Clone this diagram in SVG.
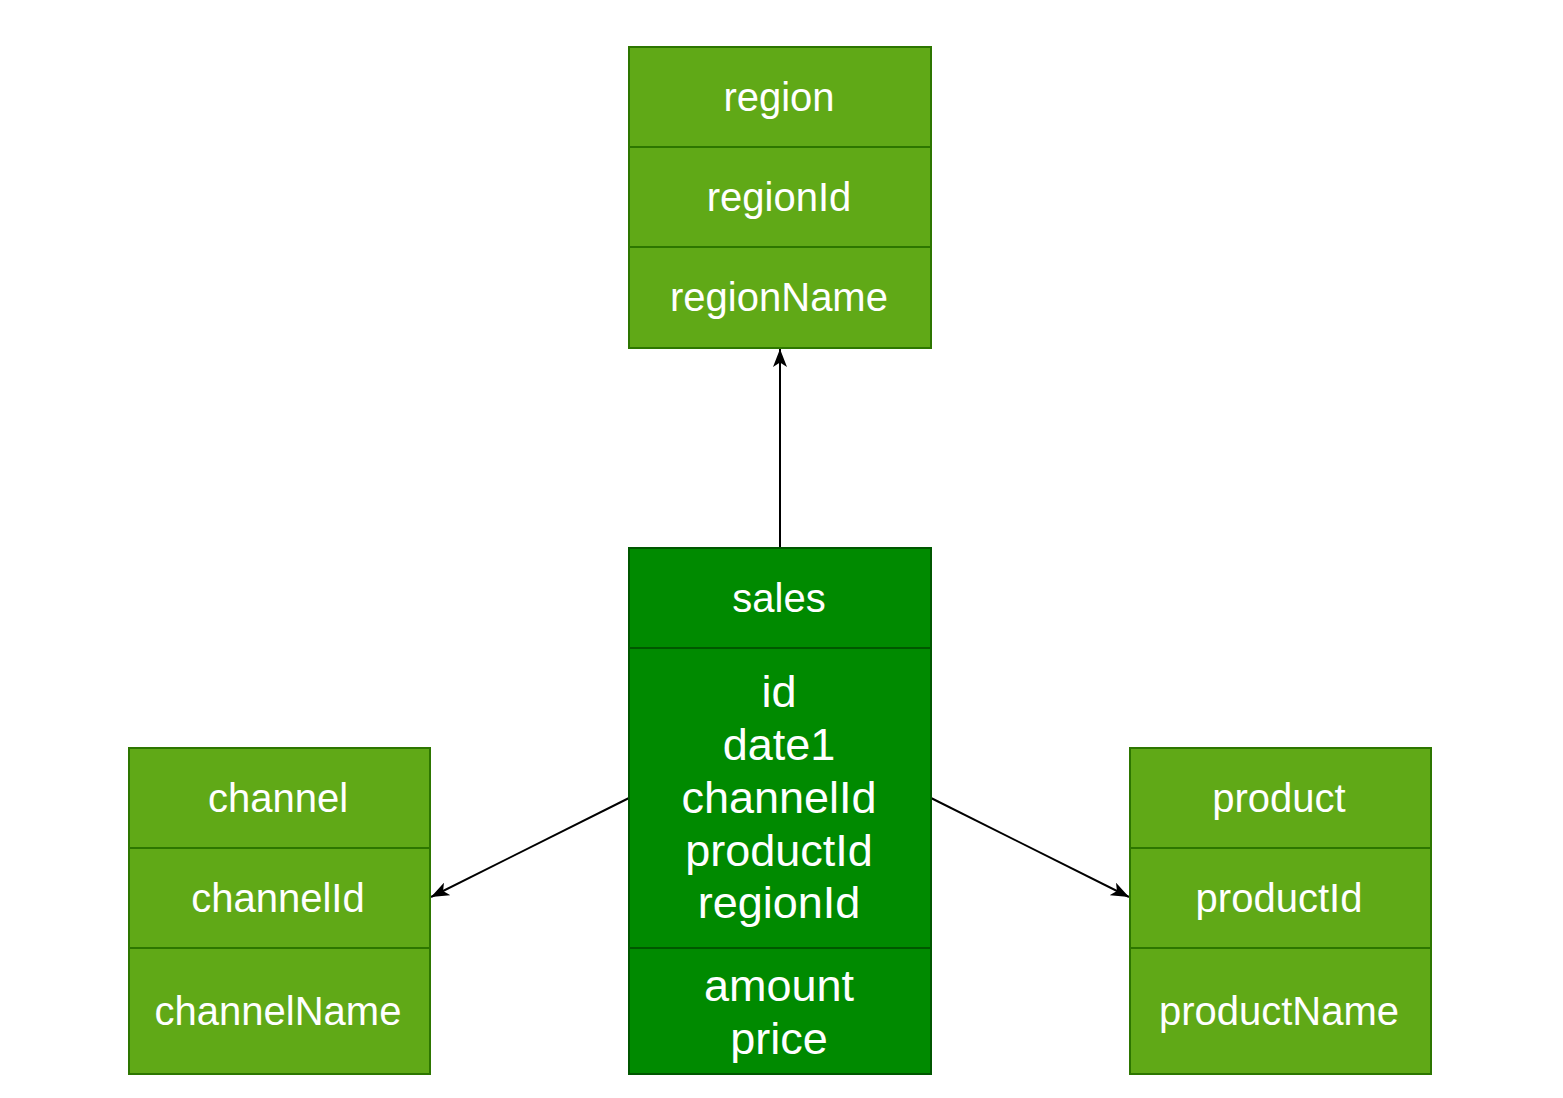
<svg xmlns="http://www.w3.org/2000/svg" width="1563" height="1098" viewBox="0 0 1563 1098">
<style>
.lt{fill:#60a917;stroke:#2d7600;stroke-width:2}
.dk{fill:#008a00;stroke:#005700;stroke-width:2}
.sepL{stroke:#2d7600;stroke-width:2}
.sepD{stroke:#005700;stroke-width:2}
text{font-family:"Liberation Sans",Arial,sans-serif;fill:#ffffff;text-anchor:middle}
.t40{font-size:40px}
.t45{font-size:45px}
.edge{stroke:#000000;stroke-width:2;fill:none}
</style>
<defs>
<marker id="arr" viewBox="0 0 18 14" refX="18" refY="7" markerWidth="18" markerHeight="14" markerUnits="userSpaceOnUse" orient="auto">
<path d="M0,0 L18,7 L0,14 L4.5,7 Z" fill="#000000"/>
</marker>
</defs>
<rect width="1563" height="1098" fill="#ffffff"/>
<g id="connectors">
<line class="edge" x1="780" y1="548" x2="780" y2="349" marker-end="url(#arr)"/>
<line class="edge" x1="629" y1="798" x2="431" y2="897" marker-end="url(#arr)"/>
<line class="edge" x1="931" y1="798" x2="1129" y2="897" marker-end="url(#arr)"/>
</g>
<g id="region">
<rect class="lt" x="629" y="47" width="302" height="301"/>
<line class="sepL" x1="629" y1="147" x2="931" y2="147"/>
<line class="sepL" x1="629" y1="247" x2="931" y2="247"/>
<text class="t40" x="779" y="111">region</text>
<text class="t40" x="779" y="211">regionId</text>
<text class="t40" x="779" y="311">regionName</text>
</g>
<g id="sales">
<rect class="dk" x="629" y="548" width="302" height="526"/>
<line class="sepD" x1="629" y1="648" x2="931" y2="648"/>
<line class="sepD" x1="629" y1="948" x2="931" y2="948"/>
<text class="t40" x="779" y="612">sales</text>
<text class="t45" x="779" y="707">id</text>
<text class="t45" x="779" y="760">date1</text>
<text class="t45" x="779" y="813">channelId</text>
<text class="t45" x="779" y="866">productId</text>
<text class="t45" x="779" y="918">regionId</text>
<text class="t45" x="779" y="1001">amount</text>
<text class="t45" x="779" y="1054">price</text>
</g>
<g id="channel">
<rect class="lt" x="129" y="748" width="301" height="326"/>
<line class="sepL" x1="129" y1="848" x2="430" y2="848"/>
<line class="sepL" x1="129" y1="948" x2="430" y2="948"/>
<text class="t40" x="278" y="812">channel</text>
<text class="t40" x="278" y="912">channelId</text>
<text class="t40" x="278" y="1025">channelName</text>
</g>
<g id="product">
<rect class="lt" x="1130" y="748" width="301" height="326"/>
<line class="sepL" x1="1130" y1="848" x2="1431" y2="848"/>
<line class="sepL" x1="1130" y1="948" x2="1431" y2="948"/>
<text class="t40" x="1279" y="812">product</text>
<text class="t40" x="1279" y="912">productId</text>
<text class="t40" x="1279" y="1025">productName</text>
</g>
</svg>
